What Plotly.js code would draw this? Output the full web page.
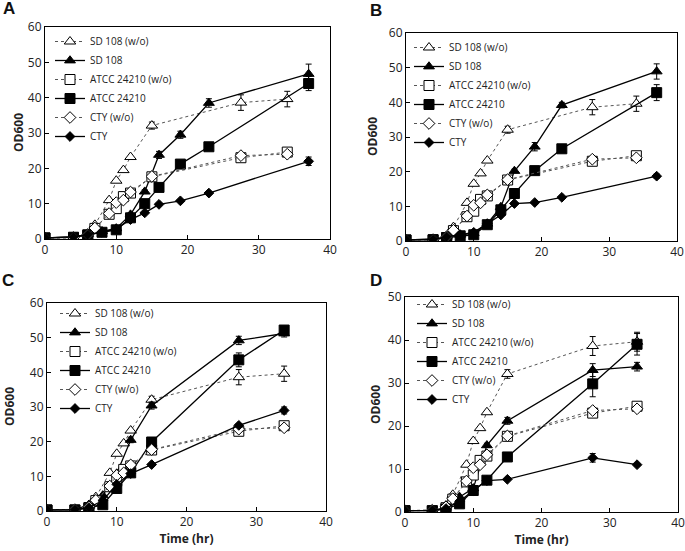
<!DOCTYPE html>
<html><head><meta charset="utf-8">
<script src="https://cdn.plot.ly/plotly-3.0.1.min.js"></script>
<style>html,body{margin:0;padding:0;background:#fff}</style>
</head><body><div id="chart" style="width:685px;height:551px"></div>
<script>
// ---------- data ----------
const seriesNames = ["SD 108 (w/o)", "SD 108", "ATCC 24210 (w/o)", "ATCC 24210", "CTY (w/o)", "CTY"];
const panelLabels = ["A", "B", "C", "D"];
const xTitle = "Time (hr)";
const yTitle = "OD600";

// control cultures (w/o), same in every panel
const timeWo = [0, 4, 6, 7, 9, 10, 11, 12, 15, 27.5, 34];
const sd108Wo = [0.3, 0.5, 1.5, 4, 11, 16.5, 19.5, 23.2, 32.1, 38.6, 39.6];
const sd108WoErr = [0, 0, 0, 0, 0, 0, 0, 0, 1, 2.2, 2.2];
const atccWo = [0.3, 0.3, 1, 3, 7, 8.6, 12, 13, 17.6, 23, 24.6];
const atccWoErr = [0, 0, 0, 0, 0, 0, 0, 0, 0.5, 0.6, 0.8];
const ctyWo = [0.3, 0.4, 1.2, 3.1, 7.2, 10.3, 11, 13.3, 17.7, 23.6, 24];
const ctyWoErr = [0, 0, 0, 0, 0, 0, 0, 0, 0.5, 0.6, 0.6];

// panels A and B
const timeAB = [0, 4, 6, 8, 10, 12, 14, 16, 19, 23, 37];
const sd108A = [0.3, 0.6, 1.3, 2.2, 3, 6.9, 13.4, 23.8, 29.5, 38.5, 46.7];
const sd108AErr = [0, 0, 0, 0, 0, 0.5, 0.5, 1, 1, 1.2, 2.8];
const atccA = [0.3, 0.5, 1.2, 1.9, 2.6, 6, 10, 14.6, 21.2, 26.1, 44];
const atccAErr = [0, 0, 0, 0, 0, 0, 0, 0.5, 0.5, 0.5, 2];
const ctyA = [0.3, 0.6, 1.2, 1.9, 2.8, 5.5, 7.4, 9.8, 10.8, 13, 22];
const ctyAErr = [0, 0, 0, 0, 0, 0, 0, 0, 0, 0, 1.2];

const sd108B = [0.3, 0.5, 1.2, 1.8, 2.3, 5, 9.8, 20.2, 27.2, 39.2, 48.9];
const sd108BErr = [0, 0, 0, 0, 0, 0, 0, 0.5, 1.2, 0.8, 2.2];
const atccB = [0.3, 0.4, 1, 1.5, 1.8, 4.7, 9, 13.7, 20.3, 26.6, 42.8];
const atccBErr = [0, 0, 0, 0, 0, 0, 0, 0, 0.5, 0.5, 2.3];
const ctyB = [0.3, 0.5, 1.2, 1.8, 2.5, 5, 7.5, 10.8, 11.1, 12.6, 18.7];
const ctyBErr = [0, 0, 0, 0, 0, 0, 0, 0, 0, 0, 0.6];

// panels C and D
const timeCD = [0, 4, 6, 8, 10, 12, 15, 27.5, 34];
const sd108C = [0.3, 0.4, 1.8, 4.5, 10.8, 20.5, 30.4, 49.2, 51.2];
const sd108CErr = [0, 0, 0, 0, 0, 0.8, 1, 1.2, 1];
const atccC = [0.3, 0.3, 0.8, 1.8, 6.5, 11, 19.9, 43.6, 52.2];
const atccCErr = [0, 0, 0, 0, 0, 0, 0, 2, 1];
const ctyC = [0.3, 0.4, 1, 3, 7.7, 10.8, 13.4, 24.7, 29];
const ctyCErr = [0, 0, 0, 0, 0, 0, 0, 0.5, 1];

const sd108D = [0.3, 0.4, 1, 3.5, 5.5, 15.5, 21.2, 33, 33.8];
const sd108DErr = [0, 0, 0, 0, 0, 0.5, 0.8, 1.5, 1];
const atccD = [0.3, 0.3, 0.7, 1.9, 5, 7.4, 12.8, 29.8, 39];
const atccDErr = [0, 0, 0, 0, 0, 0, 0, 3, 2.5];
const ctyD = [0.3, 0.4, 0.8, 2.5, 5, 7.3, 7.6, 12.6, 11];
const ctyDErr = [0, 0, 0, 0, 0, 0, 0, 1, 0.3];

// ---------- styles ----------
const W = 685, H = 551;
const styles = [
  {symbol: "triangle-up", size: 10, open: true},
  {symbol: "triangle-up", size: 9.5, open: false},
  {symbol: "square", size: 10, open: true},
  {symbol: "square", size: 10, open: false},
  {symbol: "diamond", size: 9, open: true},
  {symbol: "diamond", size: 7.5, open: false}
];

const panelData = [
  {t: timeAB, s: [sd108A, atccA, ctyA], e: [sd108AErr, atccAErr, ctyAErr]},
  {t: timeAB, s: [sd108B, atccB, ctyB], e: [sd108BErr, atccBErr, ctyBErr]},
  {t: timeCD, s: [sd108C, atccC, ctyC], e: [sd108CErr, atccCErr, ctyCErr]},
  {t: timeCD, s: [sd108D, atccD, ctyD], e: [sd108DErr, atccDErr, ctyDErr]}
];
const woVals = [sd108Wo, atccWo, ctyWo];
const woErrs = [sd108WoErr, atccWoErr, ctyWoErr];

// plot boxes in pixels [left, top, right, bottom]
const boxes = [[45, 27, 330, 239], [406, 33, 677, 241], [47, 303, 326, 511], [405, 297, 678, 512]];
const yMax = [60, 60, 60, 50];
const legendPos = [[50, 27], [409, 33], [55, 299], [412, 290]];
const letterPos = [[9, 9], [376, 11], [8, 280], [376, 280]];
const yTitlePos = [[18, 133], [373, 137], [9, 407], [375, 405]];

const traces = [];
panelData.forEach((p, pi) => {
  const sfx = pi === 0 ? "" : String(pi + 1);
  for (let k = 0; k < 6; k++) {
    const isWo = k % 2 === 0;
    const idx = Math.floor(k / 2);
    const st = styles[k];
    traces.push({
      type: "scatter", mode: "lines+markers",
      name: seriesNames[k],
      x: isWo ? timeWo : p.t,
      y: isWo ? woVals[idx] : p.s[idx],
      error_y: {type: "data", array: isWo ? woErrs[idx] : p.e[idx], visible: true, color: "#000", thickness: 1, width: 3},
      xaxis: "x" + sfx, yaxis: "y" + sfx,
      legend: "legend" + sfx,
      line: isWo ? {color: "#555", width: 1, dash: "dot"} : {color: "#000", width: 1.3},
      marker: {symbol: st.symbol, size: st.size, color: st.open ? "#fff" : "#000", line: {color: "#000", width: 1}},
      hoverinfo: "x+y+name"
    });
  }
});

const layout = {
  width: W, height: H,
  margin: {l: 0, r: 0, t: 0, b: 0, pad: 0},
  paper_bgcolor: "#fff", plot_bgcolor: "#fff",
  font: {family: "Open Sans, Arial, sans-serif", color: "#222", size: 12},
  showlegend: true,
  annotations: []
};

boxes.forEach((b, i) => {
  const sfx = i === 0 ? "" : String(i + 1);
  const axBase = {
    showline: true, mirror: true, linecolor: "#000", linewidth: 1,
    ticks: "inside", ticklen: 4, tickcolor: "#000", showgrid: false, zeroline: false,
    tickfont: {size: 12, color: "#222", family: "Open Sans, Arial, sans-serif"}, fixedrange: true
  };
  layout["xaxis" + sfx] = Object.assign({}, axBase, {
    domain: [b[0] / W, b[2] / W], range: [0, 40], dtick: 10, anchor: "y" + sfx,
    title: i >= 2 ? {text: "<b>" + xTitle + "</b>", font: {size: 12, color: "#222"}, standoff: 4} : {text: ""}
  });
  layout["yaxis" + sfx] = Object.assign({}, axBase, {
    domain: [1 - b[3] / H, 1 - b[1] / H], range: [0, yMax[i]], dtick: 10, anchor: "x" + sfx
  });
  layout["legend" + sfx] = {
    x: legendPos[i][0] / W, y: 1 - legendPos[i][1] / H, xanchor: "left", yanchor: "top",
    bgcolor: "rgba(0,0,0,0)", borderwidth: 0, tracegroupgap: 0,
    font: {size: 10, color: "#222", family: "Open Sans, Arial, sans-serif"}
  };
  layout.annotations.push({
    text: "<b>" + panelLabels[i] + "</b>", xref: "paper", yref: "paper", showarrow: false,
    x: letterPos[i][0] / W, y: 1 - letterPos[i][1] / H, xanchor: "center", yanchor: "middle",
    font: {size: 17, color: "#111", family: "Liberation Sans, Arial, sans-serif"}
  });
  layout.annotations.push({
    text: "<b>" + yTitle + "</b>", xref: "paper", yref: "paper", showarrow: false, textangle: -90,
    x: yTitlePos[i][0] / W, y: 1 - yTitlePos[i][1] / H, xanchor: "center", yanchor: "middle",
    font: {size: 12, color: "#222"}
  });
});

Plotly.newPlot("chart", traces, layout, {displayModeBar: false, staticPlot: false});
</script>
</body></html>
